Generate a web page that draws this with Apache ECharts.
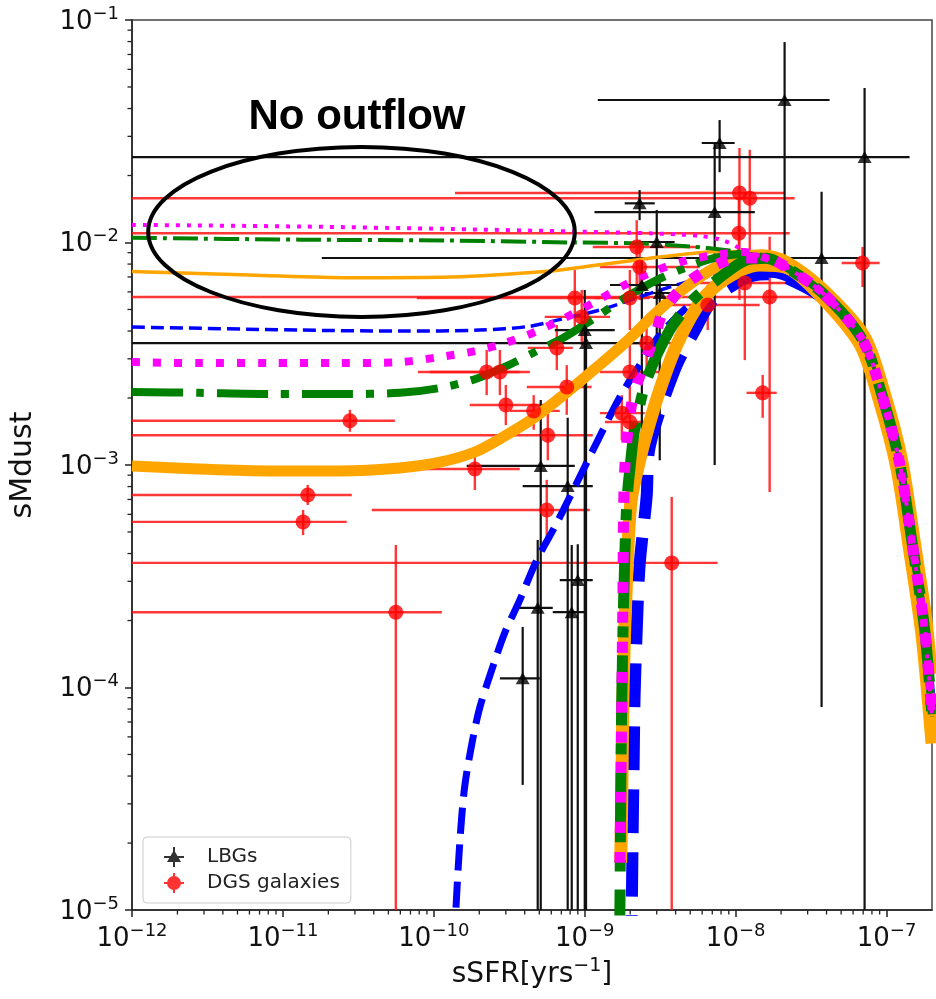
<!DOCTYPE html>
<html>
<head>
<meta charset="utf-8">
<title>sMdust vs sSFR</title>
<script src="https://cdn.jsdelivr.net/npm/echarts@6/dist/echarts.min.js"></script>
<style>
  html, body { margin: 0; padding: 0; background: #ffffff; }
  #chart { width: 936px; height: 999px; }
</style>
</head>
<body>
<div id="chart"></div>
<script>
// ---- axis ticks ----
const xTicks = [1e-12, 1e-11, 1e-10, 1e-9, 1e-8, 1e-7];
const yTicks = [1e-5, 1e-4, 1e-3, 1e-2, 1e-1];

// minor log ticks: 2..9 x 10^n inside each decade
function minorTicks(lo, hi) {
  const out = [];
  for (let n = lo; n <= hi; n++) {
    for (let k = 2; k <= 9; k++) out.push(Number((k * Math.pow(10, n)).toPrecision(2)));
  }
  return out;
}
const xMinor = minorTicks(-12, -8);
const yMinor = minorTicks(-5, -2);

// ---- LBGs (black triangles) with asymmetric error bars ----
const lbgX   = [2.11e-8, 3.71e-8, 7.15e-8, 7.83e-9, 7.26e-9, 2.31e-9, 3.0e-9, 2.39e-9, 3.14e-9, 1.0e-9, 1.02e-9, 5.11e-10, 7.71e-10, 4.88e-10, 8.2e-10, 8.99e-10, 3.88e-10];
const lbgY   = [4.37e-2, 8.52e-3, 2.42e-2, 2.80e-2, 1.37e-2, 1.50e-2, 1.005e-2, 6.44e-3, 5.93e-3, 4.04e-3, 3.53e-3, 9.9e-4, 8.04e-4, 2.28e-4, 2.18e-4, 3.04e-4, 1.10e-4];
const lbgXLo = [1.22e-9, 1.81e-11, 1e-13, 5.96e-9, 1.16e-9, 1.84e-9, 2.31e-9, 1.47e-9, 2.5e-9, 6.33e-10, 1e-13, 1.65e-10, 3.88e-10, 3.44e-10, 6.14e-10, 6.83e-10, 2.74e-10];
const lbgXHi = [4.19e-8, 6.63e-8, 1.42e-7, 9.85e-9, 1.34e-8, 2.91e-9, 3.94e-9, 4.96e-9, 4.26e-9, 1.58e-9, 2.57e-9, 8.59e-10, 1.13e-9, 6.14e-10, 1.03e-9, 1.13e-9, 5.04e-10];
const lbgYLo = [8.52e-3, 8.17e-5, 1e-6, 2.07e-2, 1e-3, 1.26e-2, 3.65e-3, 8.57e-4, 1.05e-3, 1e-6, 1e-6, 1e-6, 1e-6, 1e-6, 1e-6, 1e-6, 3.65e-5];
const lbgYHi = [7.96e-2, 1.69e-2, 4.95e-2, 3.55e-2, 2.80e-2, 1.72e-2, 1.40e-2, 8.34e-3, 7.14e-3, 6.12e-3, 4.49e-3, 1.96e-3, 1.63e-3, 4.6e-4, 4.37e-4, 4.4e-4, 1.87e-4];

// ---- DGS galaxies (red circles) with asymmetric error bars ----
const dgsX   = [1.06e-8, 1.24e-8, 1.05e-8, 2.21e-9, 2.31e-9, 6.93e-8, 1.15e-8, 1.68e-8, 6.53e-9, 8.59e-10, 9.55e-10, 1.99e-9, 2.57e-9, 1.99e-9, 7.60e-10, 1.76e-9, 1.99e-9, 6.53e-10, 2.24e-10, 2.74e-10, 3.0e-10, 4.59e-10, 5.69e-10, 1.87e-10, 5.60e-10, 2.78e-11, 1.46e-11, 1.36e-11, 5.6e-11, 3.77e-9, 1.51e-8];
const dgsY   = [1.67e-2, 1.58e-2, 1.10e-2, 9.55e-3, 7.76e-3, 8.09e-3, 6.58e-3, 5.69e-3, 5.24e-3, 5.63e-3, 4.63e-3, 5.63e-3, 3.53e-3, 2.62e-3, 2.24e-3, 1.71e-3, 1.56e-3, 3.36e-3, 2.62e-3, 2.62e-3, 1.86e-3, 1.75e-3, 1.36e-3, 9.6e-4, 6.28e-4, 1.58e-3, 7.33e-4, 5.55e-4, 2.18e-4, 3.63e-4, 2.11e-3];
const dgsXLo = [1.38e-10, 1e-13, 1e-13, 1.13e-9, 1.26e-9, 5.04e-8, 5.78e-9, 1e-13, 3.14e-9, 7.72e-11, 5.43e-10, 1.16e-9, 1.71e-9, 1.26e-9, 4.13e-10, 1.26e-9, 1.36e-9, 4.19e-10, 7.84e-11, 9.41e-11, 1.73e-10, 3.19e-10, 1e-13, 7.26e-11, 3.88e-11, 1e-13, 1e-13, 1e-13, 1e-13, 1e-13, 1.18e-8];
const dgsXHi = [2.11e-8, 2.46e-8, 2.28e-8, 5.78e-9, 5.78e-9, 8.99e-8, 2.28e-8, 3.44e-8, 1.44e-8, 1.26e-9, 1.47e-9, 2.69e-9, 4.26e-9, 3.14e-9, 1.11e-9, 2.50e-9, 2.91e-9, 8.33e-10, 3.71e-10, 4.33e-10, 6.14e-10, 6.83e-10, 1.13e-9, 3.71e-10, 1.08e-9, 5.52e-11, 2.86e-11, 2.65e-11, 1.13e-10, 7.6e-9, 1.87e-8];
const dgsYLo = [5.51e-3, 6.78e-3, 7.52e-3, 6.12e-3, 5.51e-3, 6.31e-3, 2.96e-3, 7.56e-4, 4.04e-3, 4.04e-3, 3.46e-3, 4.04e-3, 2.67e-3, 1.96e-3, 1.68e-3, 1.29e-3, 1.23e-3, 2.67e-3, 2.06e-3, 2.06e-3, 1.51e-3, 1.44e-3, 1.05e-3, 7.72e-4, 4.6e-4, 1.41e-3, 6.61e-4, 4.84e-4, 1e-6, 1e-6, 1.63e-3];
const dgsYHi = [2.66e-2, 2.61e-2, 1.55e-2, 1.26e-2, 1.03e-2, 9.55e-3, 8.52e-3, 1.06e-2, 6.44e-3, 7.52e-3, 6.12e-3, 7.52e-3, 4.49e-3, 3.46e-3, 2.81e-3, 2.06e-3, 1.96e-3, 4.26e-3, 3.29e-3, 3.29e-3, 2.29e-3, 2.06e-3, 1.77e-3, 1.17e-3, 8.57e-4, 1.77e-3, 8.13e-4, 6.28e-4, 4.37e-4, 7.18e-4, 2.54e-3];

// ---- model tracks: shared declining branch at high sSFR ----
const tailMid  = [[1.6e-8, 8.5e-3], [2.0e-8, 8.0e-3], [3.77e-8, 5.93e-3], [6.93e-8, 3.65e-3], [9.41e-8, 2.02e-3], [1.22e-7, 1.02e-3], [1.49e-7, 4.28e-4], [1.79e-7, 1.81e-4], [2.0e-7, 7.4e-5]];
const tailHigh = [[1.5e-8, 8.8e-3], [2.2e-8, 8.2e-3], [3.9e-8, 6.1e-3], [7.2e-8, 3.8e-3], [9.8e-8, 2.1e-3], [1.27e-7, 1.07e-3], [1.55e-7, 4.5e-4], [1.86e-7, 1.95e-4], [2.0e-7, 1.15e-4]];
const tailLow  = [[2.2e-8, 7.7e-3], [3.65e-8, 5.75e-3], [6.65e-8, 3.5e-3], [9.0e-8, 1.93e-3], [1.17e-7, 9.7e-4], [1.43e-7, 4.05e-4], [1.72e-7, 1.7e-4], [2.0e-7, 5.6e-5]];
const tailBlue = [[1.7e-8, 7.2e-3], [2.2e-8, 6.9e-3], [3.8e-8, 5.6e-3], [6.9e-8, 3.4e-3], [9.3e-8, 1.9e-3], [1.2e-7, 9.5e-4], [1.47e-7, 4.0e-4], [1.76e-7, 1.7e-4], [2.0e-7, 6.5e-5]];

// no-outflow tracks (thin)
const magThin = [[1e-12, 1.2e-2], [1.3e-11, 1.18e-2], [1.3e-10, 1.15e-2], [8.6e-10, 1.12e-2], [2.7e-9, 1.1e-2], [5.8e-9, 1.07e-2], [8.3e-9, 1.02e-2], [1.15e-8, 9.2e-3]];
const grnThin = [[1e-12, 1.05e-2], [1.3e-11, 1.03e-2], [1.3e-10, 1.02e-2], [8.6e-10, 1.0e-2], [2.3e-9, 9.9e-3], [5.0e-9, 9.6e-3], [9.1e-9, 9.2e-3], [1.15e-8, 9.0e-3]];
const orgThin = [[1e-12, 7.4e-3], [6e-12, 7.15e-3], [2.8e-11, 6.95e-3], [1.3e-10, 7.0e-3], [5.9e-10, 7.45e-3], [1.26e-9, 7.95e-3], [2.7e-9, 8.5e-3], [5.8e-9, 9.0e-3], [1.0e-8, 9.1e-3]];
const bluThin = [[1e-12, 4.17e-3], [1.3e-11, 4.04e-3], [6e-11, 4.0e-3], [2.0e-10, 4.04e-3], [4.3e-10, 4.2e-3], [6.8e-10, 4.5e-3], [1.26e-9, 4.97e-3], [2.0e-9, 5.5e-3], [3.14e-9, 6.1e-3], [5.8e-9, 6.9e-3], [1.02e-8, 7.3e-3]];

// moderate-outflow tracks
const magMed = [[1e-12, 2.90e-3], [2.78e-12, 2.87e-3], [8.2e-12, 2.87e-3], [2.39e-11, 2.87e-3], [5.96e-11, 2.90e-3], [1.10e-10, 3.06e-3], [1.87e-10, 3.25e-3], [2.95e-10, 3.53e-3], [4.67e-10, 3.96e-3], [7.37e-10, 4.58e-3], [1.165e-9, 5.40e-3], [1.84e-9, 6.44e-3], [2.91e-9, 7.45e-3], [4.60e-9, 8.26e-3], [7.26e-9, 8.79e-3], [1.15e-8, 9.07e-3]];
const grnMed = [[1e-12, 2.13e-3], [2.78e-12, 2.11e-3], [8.2e-12, 2.085e-3], [2.39e-11, 2.085e-3], [5.96e-11, 2.11e-3], [1.10e-10, 2.22e-3], [1.87e-10, 2.43e-3], [2.95e-10, 2.76e-3], [4.67e-10, 3.22e-3], [7.37e-10, 3.76e-3], [1.165e-9, 4.58e-3], [1.84e-9, 5.63e-3], [2.91e-9, 6.71e-3], [4.60e-9, 7.68e-3], [7.26e-9, 8.52e-3], [1.15e-8, 8.88e-3]];
const orgMed = [[1e-12, 9.90e-4], [2.78e-12, 9.59e-4], [8.2e-12, 9.40e-4], [2.39e-11, 9.40e-4], [5.96e-11, 9.70e-4], [1.10e-10, 1.03e-3], [1.87e-10, 1.144e-3], [2.95e-10, 1.35e-3], [4.67e-10, 1.64e-3], [7.37e-10, 2.085e-3], [1.165e-9, 2.70e-3], [1.84e-9, 3.53e-3], [2.91e-9, 4.77e-3], [4.60e-9, 6.24e-3], [7.26e-9, 7.68e-3], [1.15e-8, 8.61e-3]];
const bluMed = [[1.38e-10, 7e-6], [1.4e-10, 1e-5], [1.49e-10, 2.06e-5], [1.6e-10, 3.57e-5], [1.79e-10, 5.63e-5], [2.02e-10, 8.17e-5], [2.42e-10, 1.2e-4], [2.95e-10, 1.76e-4], [3.71e-10, 2.47e-4], [4.81e-10, 3.74e-4], [6.53e-10, 5.49e-4], [8.85e-10, 8.3e-4], [1.2e-9, 1.26e-3], [1.71e-9, 2.02e-3], [2.31e-9, 2.81e-3], [3.14e-9, 3.84e-3], [4.96e-9, 5.24e-3], [7.83e-9, 6.44e-3], [1.24e-8, 7.14e-3]];

// strong-outflow tracks (steep drop near 2e-9)
const orgSteep = [[1.73e-9, 1.63e-5], [1.76e-9, 3.12e-5], [1.79e-9, 8.79e-5], [1.87e-9, 2.47e-4], [2.02e-9, 6.75e-4], [2.31e-9, 1.05e-3], [2.61e-9, 1.44e-3], [3.14e-9, 2.17e-3], [4.07e-9, 3.46e-3], [5.78e-9, 5.34e-3], [8.72e-9, 6.92e-3], [1.44e-8, 7.93e-3]];
const grnSteep = [[1.69e-9, 6e-6], [1.71e-9, 1e-5], [1.73e-9, 3.12e-5], [1.76e-9, 8.79e-5], [1.81e-9, 2.47e-4], [1.9e-9, 6.75e-4], [2.02e-9, 1.05e-3], [2.14e-9, 1.44e-3], [2.57e-9, 2.41e-3], [3.66e-9, 4.04e-3], [5.19e-9, 5.51e-3], [7.49e-9, 6.78e-3], [1.18e-8, 8.34e-3]];
const magSteep = [[1.71e-9, 1.63e-5], [1.73e-9, 3.12e-5], [1.76e-9, 8.79e-5], [1.79e-9, 2.47e-4], [1.84e-9, 9.5e-4], [2.05e-9, 1.9e-3], [2.39e-9, 2.67e-3], [3.0e-9, 4.04e-3], [3.29e-9, 4.87e-3], [4.46e-9, 6.31e-3], [6.73e-9, 7.68e-3], [1.06e-8, 8.52e-3]];
const bluSteep = [[2.03e-9, 6e-6], [2.05e-9, 1e-5], [2.08e-9, 2.41e-5], [2.11e-9, 4.72e-5], [2.14e-9, 9.25e-5], [2.21e-9, 1.81e-4], [2.31e-9, 3.55e-4], [2.57e-9, 7.18e-4], [2.69e-9, 1.2e-3], [3.94e-9, 2.67e-3], [5.52e-9, 4.17e-3], [7.04e-9, 5.51e-3], [1.015e-8, 6.58e-3], [1.3e-8, 7.1e-3]];

// "No outflow" region outline (sSFR span, sMdust span)
const outflowX = [1.28e-12, 8.59e-10];
const outflowY = [4.63e-3, 2.69e-2];

// ---- helpers ----
const FONT = 'DejaVu Sans';
const MINUS = '\u2212';
const X_MIN = 1e-12, X_MAX = 2e-7, Y_MIN = 1e-5, Y_MAX = 1e-1;

function powLabel(v) {
  const e = Math.round(Math.log10(v));
  return '{b|10}{s|' + (e < 0 ? MINUS : '') + Math.abs(e) + '}';
}
const powRich = {
  b: { fontSize: 26, fontFamily: FONT, color: '#111', lineHeight: 30, verticalAlign: 'bottom' },
  s: { fontSize: 18, fontFamily: FONT, color: '#111', lineHeight: 16, verticalAlign: 'top' }
};

function track(name, pts, tail, color, width, dash) {
  return {
    type: 'line', name: name, data: pts.concat(tail || []),
    showSymbol: false, symbol: 'none', smooth: 0.3, silent: true,
    clip: true, z: 3,
    lineStyle: { color: color, width: width, type: dash || 'solid', cap: 'butt', join: 'round' }
  };
}

function errorBars(name, xs, ys, xlo, xhi, ylo, yhi, color, width) {
  return {
    type: 'custom', name: name, silent: true, clip: false, z: 2,
    encode: { x: 0, y: 1 },
    data: xs.map((x, i) => [x, ys[i], xlo[i], xhi[i], ylo[i], yhi[i]]),
    renderItem: function (params, api) {
      const cs = params.coordSys;
      const clx = v => Math.min(cs.x + cs.width, Math.max(cs.x, v));
      const cly = v => Math.min(cs.y + cs.height, Math.max(cs.y, v));
      const p = api.coord([api.value(0), api.value(1)]);
      const l = api.coord([api.value(2), api.value(1)]);
      const r = api.coord([api.value(3), api.value(1)]);
      const b = api.coord([api.value(0), api.value(4)]);
      const t = api.coord([api.value(0), api.value(5)]);
      const st = { stroke: color, lineWidth: width };
      return {
        type: 'group',
        children: [
          { type: 'line', shape: { x1: clx(l[0]), y1: p[1], x2: clx(r[0]), y2: p[1] }, style: st },
          { type: 'line', shape: { x1: p[0], y1: cly(t[1]), x2: p[0], y2: cly(b[1]) }, style: st }
        ]
      };
    }
  };
}

// legend glyphs: marker with error-bar cross
const lbgIcon = 'path://M11 3L18 15L4 15Z M1 9h20v2H1Z M10 0h2v20h-2Z';
const dgsIcon = 'path://M4 10A7 7 0 1 1 18 10A7 7 0 1 1 4 10Z M1 9h20v2H1Z M10 0h2v20h-2Z';

const RED = '#ff0000';
const BLUE = '#0000ff';
const ORANGE = '#ffa500';
const GREEN = '#008000';
const MAGENTA = '#ff00ff';

const chart = echarts.init(document.getElementById('chart'), null, { renderer: 'canvas' });

const option = {
  animation: false,
  backgroundColor: '#ffffff',
  textStyle: { fontFamily: FONT },
  grid: { left: 132, top: 20, width: 800, height: 890, show: true, borderColor: '#444', borderWidth: 1.5, backgroundColor: 'transparent' },
  xAxis: {
    type: 'log', logBase: 10, min: X_MIN, max: X_MAX, position: 'bottom',
    axisLine: { show: true, onZero: false, lineStyle: { color: '#222', width: 1.5 } },
    axisTick: { show: true, length: 7, customValues: xTicks, lineStyle: { color: '#222', width: 1.5 } },
    minorTick: { show: false },
    splitLine: { show: false },
    axisLabel: { customValues: xTicks, margin: 12, formatter: powLabel, rich: powRich },
    name: '{n|sSFR[yrs}{s|' + MINUS + '1}{n|]}',
    nameLocation: 'middle', nameGap: 44,
    nameTextStyle: {
      rich: {
        n: { fontSize: 28, fontFamily: FONT, color: '#111', lineHeight: 32, verticalAlign: 'bottom' },
        s: { fontSize: 19, fontFamily: FONT, color: '#111', lineHeight: 18, verticalAlign: 'top' }
      }
    }
  },
  yAxis: {
    type: 'log', logBase: 10, min: Y_MIN, max: Y_MAX, position: 'left',
    axisLine: { show: true, onZero: false, lineStyle: { color: '#222', width: 1.5 } },
    axisTick: { show: true, length: 7, customValues: yTicks, lineStyle: { color: '#222', width: 1.5 } },
    minorTick: { show: false },
    splitLine: { show: false },
    axisLabel: { customValues: yTicks, margin: 13, formatter: powLabel, rich: powRich },
    name: 'sMdust', nameLocation: 'middle', nameGap: 94, nameRotate: 90,
    nameTextStyle: { fontSize: 30, fontFamily: FONT, color: '#111' }
  },
  legend: {
    show: true, orient: 'vertical', left: 143, top: 837,
    padding: [10, 11, 10, 21], itemGap: 6, itemWidth: 22, itemHeight: 20,
    backgroundColor: 'rgba(255,255,255,0.85)', borderColor: '#cccccc', borderWidth: 1, borderRadius: 4,
    selectedMode: false,
    textStyle: { fontSize: 20, fontFamily: FONT, color: '#222', padding: [0, 0, 0, 17], lineHeight: 20 },
    data: [{ name: 'LBGs', icon: lbgIcon }, { name: 'DGS galaxies', icon: dgsIcon }]
  },
  series: [
    errorBars('DGS errors', dgsX, dgsY, dgsXLo, dgsXHi, dgsYLo, dgsYHi, 'rgba(255,20,20,0.85)', 2.4),
    errorBars('LBG errors', lbgX, lbgY, lbgXLo, lbgXHi, lbgYLo, lbgYHi, '#111', 2.2),

    track('blue thin', bluThin, tailBlue, BLUE, 3.5, [13, 6]),
    track('blue moderate', bluMed, tailBlue, BLUE, 7, [26, 11]),
    track('blue strong', bluSteep, tailBlue, BLUE, 12, [44, 19]),

    track('orange thin', orgThin, tailMid, ORANGE, 3.5),
    track('orange moderate', orgMed, tailHigh, ORANGE, 11),
    track('orange strong', orgSteep, tailLow, ORANGE, 13),

    track('green thin', grnThin, tailMid, GREEN, 4, [25, 6, 4, 6]),
    track('green moderate', grnMed, tailMid, GREEN, 8, [51, 13, 8, 13]),
    track('green strong', grnSteep, tailMid, GREEN, 11, [70, 18, 11, 18]),

    track('magenta thin', magThin, tailMid, MAGENTA, 4, [4, 7]),
    track('magenta moderate', magMed, tailMid, MAGENTA, 8, [8, 13]),
    track('magenta strong', magSteep, tailMid, MAGENTA, 11, [11, 19]),

    {
      type: 'scatter', name: 'DGS galaxies', z: 5, silent: true,
      symbol: 'circle', symbolSize: 15,
      itemStyle: { color: RED },
      data: dgsX.map((x, i) => [x, dgsY[i]])
    },
    {
      type: 'scatter', name: 'LBGs', z: 5, silent: true,
      symbol: 'triangle', symbolSize: [14, 12],
      itemStyle: { color: '#000' },
      data: lbgX.map((x, i) => [x, lbgY[i]])
    },
    {
      type: 'custom', name: 'outline', silent: true, clip: false, z: 10,
      encode: { x: 0, y: 1 },
      data: [[outflowX[0], outflowY[1], outflowX[1], outflowY[0]]],
      renderItem: function (params, api) {
        const a = api.coord([api.value(0), api.value(1)]);
        const b = api.coord([api.value(2), api.value(3)]);
        return {
          type: 'ellipse',
          shape: { cx: (a[0] + b[0]) / 2, cy: (a[1] + b[1]) / 2, rx: Math.abs(b[0] - a[0]) / 2, ry: Math.abs(b[1] - a[1]) / 2 },
          style: { fill: 'none', stroke: '#000', lineWidth: 4 }
        };
      }
    }
  ]
};

chart.setOption(option);

// Minor log ticks and the panel caption, placed through the axes' own scales
const bottomY = chart.convertToPixel({ yAxisIndex: 0 }, Y_MIN);
const leftX = chart.convertToPixel({ xAxisIndex: 0 }, X_MIN);
const tickStyle = { stroke: '#222', lineWidth: 1.3 };
const minorMarks = [];
xMinor.forEach(function (v) {
  const px = chart.convertToPixel({ xAxisIndex: 0 }, v);
  minorMarks.push({ type: 'line', silent: true, z: 30, shape: { x1: px, y1: bottomY, x2: px, y2: bottomY + 4.5 }, style: tickStyle });
});
yMinor.forEach(function (v) {
  const py = chart.convertToPixel({ yAxisIndex: 0 }, v);
  minorMarks.push({ type: 'line', silent: true, z: 30, shape: { x1: leftX, y1: py, x2: leftX - 4.5, y2: py }, style: tickStyle });
});

chart.setOption({
  graphic: {
    elements: [
      {
        type: 'text', x: 357, y: 117, z: 20,
        style: {
          text: 'No outflow', fill: '#000',
          font: 'bold 42px "Liberation Sans", Arial, sans-serif',
          align: 'center', verticalAlign: 'middle', textAlign: 'center', textVerticalAlign: 'middle'
        }
      }
    ].concat(minorMarks)
  }
});
</script>
</body>
</html>
